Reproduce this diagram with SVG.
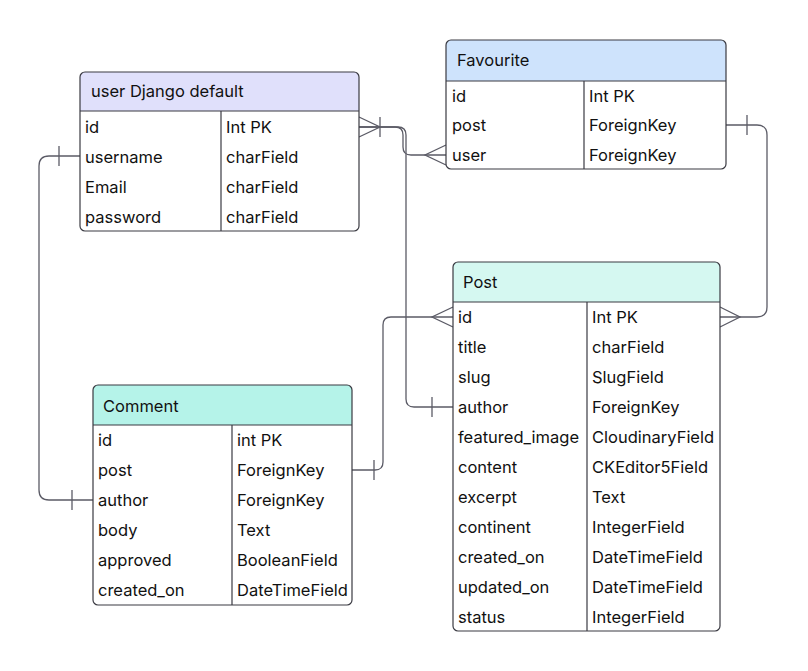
<svg xmlns="http://www.w3.org/2000/svg" width="808" height="671" viewBox="0 0 808 671">
<style>
.box{fill:#ffffff}
.border{fill:none;stroke:#3a3a42;stroke-width:1.2}
.div{stroke:#3a3a42;stroke-width:1.2}
.t{font-family:Inter,"Noto Sans","Liberation Sans",sans-serif;font-size:16.5px;fill:#111111}
.conn path,.conn line{fill:none;stroke:#5b5b66;stroke-width:1.3}
</style>
<rect width="808" height="671" fill="#ffffff"/>
<g class="conn" id="connectors">
  <path d="M359,127 H395 Q403,127 403,135 V147 Q403,155 411,155 H446"/>
  <path d="M359,127 H398 Q406,127 406,135 V399 Q406,407 414,407 H453"/>
  <path d="M726,125 H757 Q767,125 767,135 V307 Q767,317 757,317 H720"/>
  <path d="M453,317 H391 Q383,317 383,325 V462 Q383,470 375,470 H352"/>
  <path d="M80,156 H49 Q39,156 39,166 V490 Q39,500 49,500 H93"/>
  <path d="M359,117 L380,127 L359,137"/>
  <line x1="380" y1="117" x2="380" y2="137"/>
  <path d="M446,145 L425,155 L446,165"/>
  <line x1="432" y1="397" x2="432" y2="417"/>
  <line x1="747" y1="115" x2="747" y2="135"/>
  <path d="M720,307 L740,317 L720,327"/>
  <path d="M453,307 L432,317 L453,327"/>
  <line x1="374" y1="460" x2="374" y2="480"/>
  <line x1="59" y1="146" x2="59" y2="166"/>
  <line x1="72" y1="490" x2="72" y2="510"/>
</g>
<g id="user">
  <rect class="box" x="80" y="72" width="279" height="159" rx="5"/>
  <path d="M80,111 V77 Q80,72 85,72 H354 Q359,72 359,77 V111 Z" fill="#e0e0fb"/>
  <line class="div" x1="80" y1="111" x2="359" y2="111"/>
  <line class="div" x1="221" y1="111" x2="221" y2="231"/>
  <rect class="border" x="80" y="72" width="279" height="159" rx="5"/>
  <text class="t" x="91" y="97">user Django default</text>
  <text class="t" x="85" y="133">id</text><text class="t" x="226" y="133">Int PK</text>
  <text class="t" x="85" y="163">username</text><text class="t" x="226" y="163">charField</text>
  <text class="t" x="85" y="193">Email</text><text class="t" x="226" y="193">charField</text>
  <text class="t" x="85" y="223">password</text><text class="t" x="226" y="223">charField</text>
</g>
<g id="favourite">
  <rect class="box" x="446" y="40" width="280" height="129" rx="5"/>
  <path d="M446,81 V45 Q446,40 451,40 H721 Q726,40 726,45 V81 Z" fill="#cee3fc"/>
  <line class="div" x1="446" y1="81" x2="726" y2="81"/>
  <line class="div" x1="584" y1="81" x2="584" y2="169"/>
  <rect class="border" x="446" y="40" width="280" height="129" rx="5"/>
  <text class="t" x="457" y="66">Favourite</text>
  <text class="t" x="452" y="102">id</text><text class="t" x="589" y="102">Int PK</text>
  <text class="t" x="452" y="131">post</text><text class="t" x="589" y="131">ForeignKey</text>
  <text class="t" x="452" y="161">user</text><text class="t" x="589" y="161">ForeignKey</text>
</g>
<g id="post">
  <rect class="box" x="453" y="262" width="267" height="369" rx="5"/>
  <path d="M453,302 V267 Q453,262 458,262 H715 Q720,262 720,267 V302 Z" fill="#d5f8f1"/>
  <line class="div" x1="453" y1="302" x2="720" y2="302"/>
  <line class="div" x1="587" y1="302" x2="587" y2="631"/>
  <rect class="border" x="453" y="262" width="267" height="369" rx="5"/>
  <text class="t" x="463" y="288">Post</text>
  <text class="t" x="458" y="323">id</text><text class="t" x="592" y="323">Int PK</text>
  <text class="t" x="458" y="353">title</text><text class="t" x="592" y="353">charField</text>
  <text class="t" x="458" y="383">slug</text><text class="t" x="592" y="383">SlugField</text>
  <text class="t" x="458" y="413">author</text><text class="t" x="592" y="413">ForeignKey</text>
  <text class="t" x="458" y="443">featured_image</text><text class="t" x="592" y="443">CloudinaryField</text>
  <text class="t" x="458" y="473">content</text><text class="t" x="592" y="473">CKEditor5Field</text>
  <text class="t" x="458" y="503">excerpt</text><text class="t" x="592" y="503">Text</text>
  <text class="t" x="458" y="533">continent</text><text class="t" x="592" y="533">IntegerField</text>
  <text class="t" x="458" y="563">created_on</text><text class="t" x="592" y="563">DateTimeField</text>
  <text class="t" x="458" y="593">updated_on</text><text class="t" x="592" y="593">DateTimeField</text>
  <text class="t" x="458" y="623">status</text><text class="t" x="592" y="623">IntegerField</text>
</g>
<g id="comment">
  <rect class="box" x="93" y="385" width="259" height="220" rx="5"/>
  <path d="M93,425 V390 Q93,385 98,385 H347 Q352,385 352,390 V425 Z" fill="#b5f3e9"/>
  <line class="div" x1="93" y1="425" x2="352" y2="425"/>
  <line class="div" x1="232" y1="425" x2="232" y2="605"/>
  <rect class="border" x="93" y="385" width="259" height="220" rx="5"/>
  <text class="t" x="103" y="412">Comment</text>
  <text class="t" x="98" y="446">id</text><text class="t" x="237" y="446">int PK</text>
  <text class="t" x="98" y="476">post</text><text class="t" x="237" y="476">ForeignKey</text>
  <text class="t" x="98" y="506">author</text><text class="t" x="237" y="506">ForeignKey</text>
  <text class="t" x="98" y="536">body</text><text class="t" x="237" y="536">Text</text>
  <text class="t" x="98" y="566">approved</text><text class="t" x="237" y="566">BooleanField</text>
  <text class="t" x="98" y="596">created_on</text><text class="t" x="237" y="596">DateTimeField</text>
</g>
</svg>
